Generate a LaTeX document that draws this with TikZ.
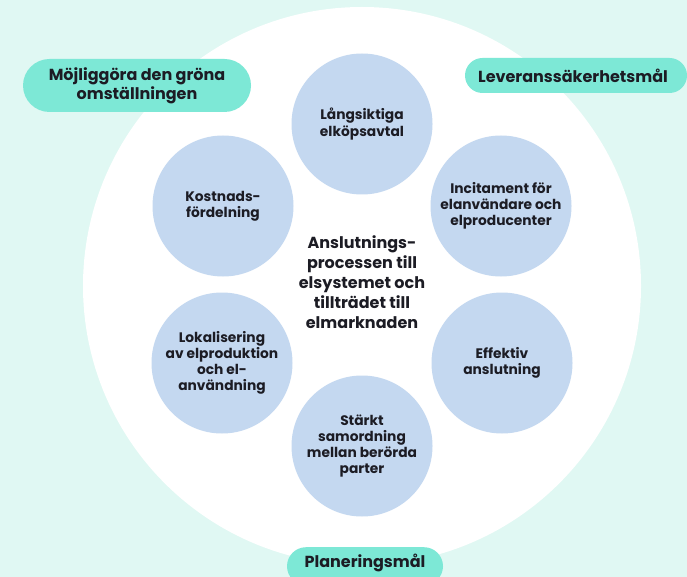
\documentclass[tikz,border=0pt]{standalone}
\usepackage{fontspec}
\setmainfont{Poppins}
\definecolor{bgmint}{HTML}{E0F8F3}
\definecolor{pillgreen}{HTML}{7DE8D6}
\definecolor{blobblue}{HTML}{C4D8F0}
\definecolor{txtdark}{HTML}{1C1C24}
\begin{document}
\begin{tikzpicture}[x=1pt,y=-1pt,
  topic/.style={circle,fill=blobblue,minimum size=141pt,inner sep=0pt,align=center,
    font=\bfseries\fontsize{13.8}{16.2}\selectfont,text=txtdark},
  pill/.style={fill=pillgreen,inner sep=0pt,align=center,
    font=\bfseries\fontsize{16}{19}\selectfont,text=txtdark}]
\useasboundingbox (0,0) rectangle (687,577);
\clip (0,0) rectangle (687,577);
\fill[bgmint] (0,0) rectangle (687,577);
\node[circle,fill=white,minimum size=558pt,inner sep=0pt] (outer) at (362,286) {};
\node[topic] (t1) at (362,124) {Långsiktiga\\elköpsavtal};
\node[topic] (t2) at (501,206) {Incitament för\\elanvändare och\\elproducenter};
\node[topic] (t3) at (502,363) {Effektiv\\anslutning};
\node[topic] (t4) at (362,446) {Stärkt\\samordning\\mellan berörda\\parter};
\node[topic] (t5) at (222,363) {Lokalisering\\av elproduktion\\och el-\\användning};
\node[topic] (t6) at (223,206) {Kostnads-\\fördelning};
\node[align=center,text=txtdark,font=\bfseries\fontsize{16}{20}\selectfont] (center) at (362,282)
  {Anslutnings-\\processen till\\elsystemet och\\tillträdet till\\elmarknaden};
\node[pill,minimum width=228pt,minimum height=53pt,rounded corners=26.5pt] (p1) at (137,85.5)
  {Möjliggöra den gröna\\omställningen};
\node[pill,minimum width=222pt,minimum height=35pt,rounded corners=17.5pt] (p2) at (576,75.5)
  {\hspace*{-6pt}Leveranssäkerhetsmål};
\node[pill,minimum width=156pt,minimum height=38pt,rounded corners=19pt,anchor=north] (p3) at (365,547) {};
\node[text=txtdark,font=\bfseries\fontsize{16}{19}\selectfont] (p3t) at (365,563) {Planeringsmål};
\end{tikzpicture}
\end{document}
